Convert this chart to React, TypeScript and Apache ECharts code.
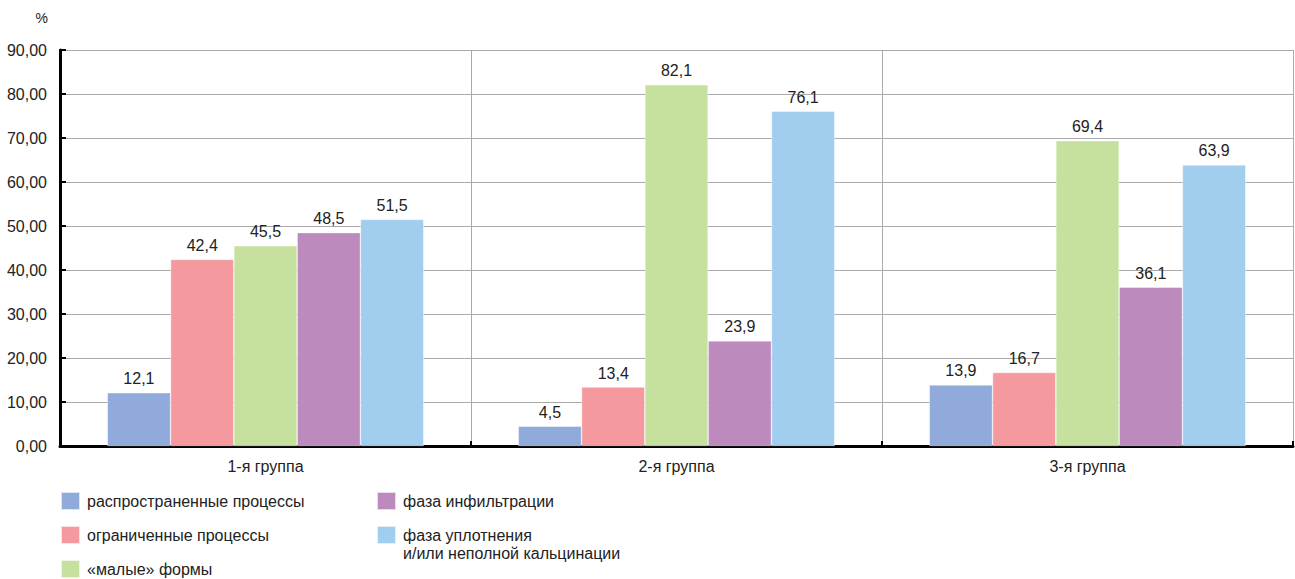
import React, { useEffect, useRef } from "react";
import * as echarts from "echarts";

const categories = ["1-я группа", "2-я группа", "3-я группа"];
const seriesNames = [
  "распространенные процессы",
  "ограниченные процессы",
  "«малые» формы",
  "фаза инфильтрации",
  "фаза уплотнения\nи/или неполной кальцинации",
];
const widespread = [12.1, 4.5, 13.9];
const limited = [42.4, 13.4, 16.7];
const smallForms = [45.5, 82.1, 69.4];
const infiltration = [48.5, 23.9, 36.1];
const compaction = [51.5, 76.1, 63.9];
const seriesValues = [widespread, limited, smallForms, infiltration, compaction];
const colors = ["#8FAADB", "#F4999D", "#C6E09E", "#BC8ABD", "#A1CEEF"];
const yTicks = { min: 0, max: 90, interval: 10 };

const FONT = "'Liberation Sans', Arial, Helvetica, sans-serif";

export default function App() {
  const ref = useRef<HTMLDivElement>(null);
  useEffect(() => {
    document.body.style.margin = "0";
    const chart = echarts.init(ref.current!, null, { renderer: "svg" });
    const legendText = { fontFamily: FONT, fontSize: 16, color: "#222", lineHeight: 18, padding: [0, 0, 0, 2] };
    const legendBase = {
      orient: "vertical",
      padding: 0,
      itemWidth: 19,
      itemHeight: 18,
      icon: "rect",
      selectedMode: false,
      textStyle: legendText,
    };
    chart.setOption({
      animation: false,
      textStyle: { fontFamily: FONT },
      grid: { left: 60, right: 2, top: 50, bottom: 133, containLabel: false },
      legend: [
        {
          ...legendBase,
          data: seriesNames.slice(0, 3),
          left: 60,
          top: 491,
          height: 120,
          width: 300,
          itemGap: 14,
        },
        {
          ...legendBase,
          data: seriesNames.slice(3, 4),
          left: 376,
          top: 491,
        },
        {
          ...legendBase,
          data: seriesNames.slice(4, 5),
          left: 376,
          top: 508,
          formatter: (name: string) => "\n" + name,
        },
      ],
      xAxis: {
        type: "category",
        data: categories,
        axisLine: { lineStyle: { color: "#000", width: 3 } },
        axisTick: { show: true, inside: true, length: 5, lineStyle: { color: "#000", width: 2 } },
        axisLabel: { color: "#222", fontSize: 16, margin: 12, fontFamily: FONT },
        splitLine: { show: true, lineStyle: { color: "#aaa", width: 1 } },
      },
      yAxis: {
        type: "value",
        min: yTicks.min,
        max: yTicks.max,
        interval: yTicks.interval,
        name: "%",
        nameLocation: "end",
        nameGap: 25,
        nameTextStyle: { color: "#222", fontSize: 14, align: "right", padding: [0, 12, 0, 0], fontFamily: FONT },
        axisLine: { show: true, lineStyle: { color: "#000", width: 3 } },
        axisTick: { show: true, inside: true, length: 6, lineStyle: { color: "#000", width: 2 } },
        axisLabel: {
          color: "#222",
          fontSize: 16,
          margin: 13,
          fontFamily: FONT,
          formatter: (v: number) => v.toFixed(2).replace(".", ","),
        },
        splitLine: { show: true, lineStyle: { color: "#aaa", width: 1 } },
      },
      series: seriesNames.map((name, i) => ({
        name,
        type: "bar",
        data: seriesValues[i],
        barGap: "0%",
        barCategoryGap: "23%",
        itemStyle: { color: colors[i], borderColor: "rgba(255,255,255,0.7)", borderWidth: 0.6 },
        label: {
          show: true,
          position: "top",
          distance: 6,
          color: "#222",
          fontSize: 16,
          fontFamily: FONT,
          formatter: (p: any) => String(p.value.toFixed(1)).replace(".", ","),
        },
      })),
    });
    return () => chart.dispose();
  }, []);
  return <div ref={ref} style={{ width: 1295, height: 579 }} />;
}
